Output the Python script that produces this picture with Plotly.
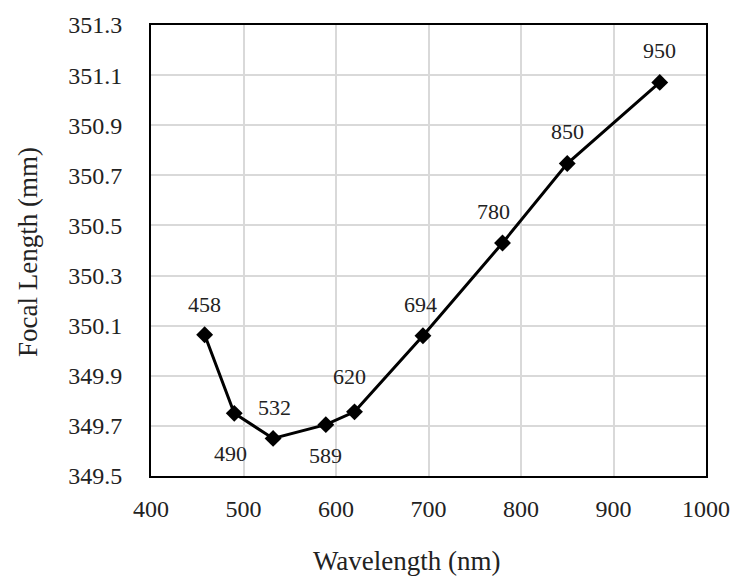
import plotly.graph_objects as go

wavelength = [458, 490, 532, 589, 620, 694, 780, 850, 950]
focal_length = [350.064, 349.75, 349.65, 349.705, 349.756, 350.06, 350.43, 350.747, 351.071]
point_labels = ["458", "490", "532", "589", "620", "694", "780", "850", "950"]
label_dy = [-30, 40, -31, 31, -35, -31, -31, -32, -32]
label_dx = [0, -4, 1, 0, -5, -2, -9, 0, 0]
x_ticks = [400, 500, 600, 700, 800, 900, 1000]
y_ticks = [349.5, 349.7, 349.9, 350.1, 350.3, 350.5, 350.7, 350.9, 351.1, 351.3]

FONT = "Times New Roman, Liberation Serif, DejaVu Serif, serif"

fig = go.Figure()
fig.add_trace(go.Scatter(
    x=wavelength, y=focal_length, mode="lines+markers",
    line=dict(color="black", width=3),
    marker=dict(symbol="diamond", size=13, color="black"),
    showlegend=False, hoverinfo="skip",
))

for x, y, t, dy, dx in zip(wavelength, focal_length, point_labels, label_dy, label_dx):
    fig.add_annotation(x=x, y=y, text=t, showarrow=False, xref="x", yref="y",
                       yshift=-dy, xshift=dx,
                       font=dict(family=FONT, size=22, color="#222"))

fig.add_annotation(text="Wavelength (nm)", xref="paper", yref="paper",
                   x=(410 - 151) / (713 - 151), y=-(562 - 476) / (476 - 20),
                   showarrow=False, xanchor="center", yanchor="middle",
                   font=dict(family=FONT, size=27, color="#222"))
fig.add_annotation(text="Focal Length (mm)", xref="paper", yref="paper",
                   x=-(151 - 27) / (713 - 151), y=(476 - 250) / (476 - 20),
                   textangle=-90, showarrow=False, xanchor="center", yanchor="middle",
                   font=dict(family=FONT, size=27, color="#222"))

fig.update_xaxes(range=[400, 1000], tickvals=x_ticks, ticktext=[str(v) for v in x_ticks],
                 showgrid=True, gridcolor="#d9d9d9", gridwidth=2,
                 showline=True, linecolor="black", linewidth=2, mirror=True,
                 zeroline=False, ticks="", ticklabelstandoff=10,
                 tickfont=dict(family=FONT, size=24, color="#222"))
fig.update_yaxes(range=[349.5, 351.3], tickvals=y_ticks, ticktext=[f"{v:.1f}" for v in y_ticks],
                 showgrid=True, gridcolor="#d9d9d9", gridwidth=2,
                 showline=True, linecolor="black", linewidth=2, mirror=True,
                 zeroline=False, ticks="", ticklabelstandoff=22,
                 tickfont=dict(family=FONT, size=24, color="#222"))

fig.update_layout(width=742, height=580, margin=dict(l=151, r=29, t=20, b=104),
                  plot_bgcolor="white", paper_bgcolor="white",
                  font=dict(family=FONT))

fig.write_html("out.html")
